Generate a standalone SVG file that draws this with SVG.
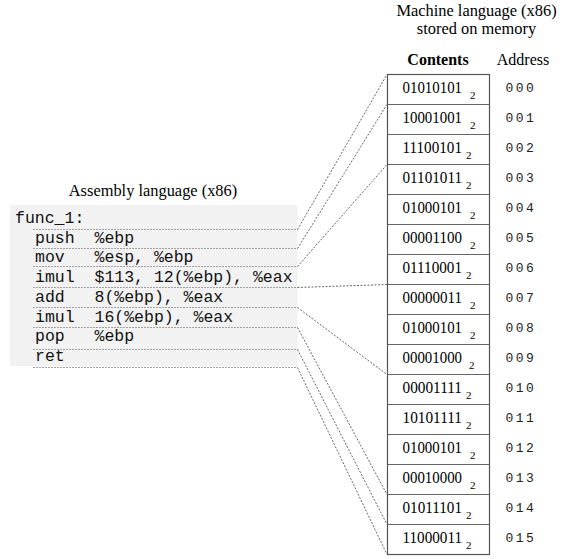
<svg xmlns="http://www.w3.org/2000/svg" width="585" height="559" viewBox="0 0 585 559">
<style>
.title{font-family:"Liberation Serif","Times New Roman",serif;font-size:16.4px;fill:#000;text-anchor:middle}
.hdr{font-family:"Liberation Serif","Times New Roman",serif;font-size:16px;fill:#000;text-anchor:middle}
.code{font-family:"Liberation Mono","Courier New",monospace;font-size:16.5px;fill:#111;white-space:pre}
.bin{font-family:"Liberation Serif","Times New Roman",serif;font-size:16.5px;fill:#000}
.sub{font-family:"Liberation Serif","Times New Roman",serif;font-size:11px;fill:#000}
.addr{font-family:"Liberation Mono","Courier New",monospace;font-size:13px;letter-spacing:2.5px;fill:#222}
.ul{stroke:#a0a0a0;stroke-width:1;stroke-dasharray:2,1;fill:none}
.conn{stroke:#666;stroke-width:1;stroke-dasharray:2,1.5;fill:none}
.cell{fill:#fff;stroke:#666;stroke-width:1}
</style>
<text class="title" x="476.5" y="15.5">Machine language (x86)</text>
<text class="title" x="476.5" y="34">stored on memory</text>
<text class="hdr" x="438" y="65" font-weight="bold">Contents</text>
<text class="hdr" x="523" y="65">Address</text>
<text class="title" x="153" y="196">Assembly language (x86)</text>

<g id="assembly">
<rect x="10" y="205" width="287.5" height="161" fill="#f2f2f2"/>
<text class="code" x="15" y="222.5">func_1:</text>
<text class="code" x="35" y="242.5">push</text><text class="code" x="94.5" y="242.5">%ebp</text>
<text class="code" x="35" y="261.5">mov</text><text class="code" x="94.5" y="261.5">%esp, %ebp</text>
<text class="code" x="35" y="281.5">imul</text><text class="code" x="94.5" y="281.5">$113, 12(%ebp), %eax</text>
<text class="code" x="35" y="301.5">add</text><text class="code" x="94.5" y="301.5">8(%ebp), %eax</text>
<text class="code" x="35" y="321.5">imul</text><text class="code" x="94.5" y="321.5">16(%ebp), %eax</text>
<text class="code" x="35" y="341">pop</text><text class="code" x="94.5" y="341">%ebp</text>
<text class="code" x="35" y="360.5">ret</text>
</g>

<g id="connectors">
<path class="ul" d="M33 229.5H297.5M33 248.5H297.5M33 266.5H297.5M33 287.5H297.5M33 307.5H297.5M33 327.5H297.5M33 349.5H297.5M33 367.5H297.5"/>
<path class="conn" d="M297.5 229.5L387 74.5"/>
<path class="conn" d="M297.5 248.5L387 104.5"/>
<path class="conn" d="M297.5 266.5L387 164.5"/>
<path class="conn" d="M297.5 287.5L387 284.5"/>
<path class="conn" d="M297.5 307.5L387 374.5"/>
<path class="conn" d="M297.5 327.5L387 494.5"/>
<path class="conn" d="M297.5 349.5L387 524.5"/>
<path class="conn" d="M297.5 367.5L387 554.5"/>
</g>

<g id="memory">
<g id="m000"><rect class="cell" x="387.5" y="74.5" width="102" height="30"/><text class="bin" x="402.5" y="93" textLength="59.5" lengthAdjust="spacingAndGlyphs">01010101</text><text class="sub" x="470" y="98.5">2</text><text class="addr" x="505.5" y="92">000</text></g>
<g id="m001"><rect class="cell" x="387.5" y="104.5" width="102" height="30"/><text class="bin" x="402.5" y="123" textLength="59.5" lengthAdjust="spacingAndGlyphs">10001001</text><text class="sub" x="470" y="128.5">2</text><text class="addr" x="505.5" y="122">001</text></g>
<g id="m002"><rect class="cell" x="387.5" y="134.5" width="102" height="30"/><text class="bin" x="402.5" y="153" textLength="59.5" lengthAdjust="spacingAndGlyphs">11100101</text><text class="sub" x="466" y="158.5">2</text><text class="addr" x="505.5" y="152">002</text></g>
<g id="m003"><rect class="cell" x="387.5" y="164.5" width="102" height="30"/><text class="bin" x="402.5" y="183" textLength="59.5" lengthAdjust="spacingAndGlyphs">01101011</text><text class="sub" x="466" y="188.5">2</text><text class="addr" x="505.5" y="182">003</text></g>
<g id="m004"><rect class="cell" x="387.5" y="194.5" width="102" height="30"/><text class="bin" x="402.5" y="213" textLength="59.5" lengthAdjust="spacingAndGlyphs">01000101</text><text class="sub" x="470" y="218.5">2</text><text class="addr" x="505.5" y="212">004</text></g>
<g id="m005"><rect class="cell" x="387.5" y="224.5" width="102" height="30"/><text class="bin" x="402.5" y="243" textLength="59.5" lengthAdjust="spacingAndGlyphs">00001100</text><text class="sub" x="470" y="248.5">2</text><text class="addr" x="505.5" y="242">005</text></g>
<g id="m006"><rect class="cell" x="387.5" y="254.5" width="102" height="30"/><text class="bin" x="402.5" y="273" textLength="59.5" lengthAdjust="spacingAndGlyphs">01110001</text><text class="sub" x="466" y="278.5">2</text><text class="addr" x="505.5" y="272">006</text></g>
<g id="m007"><rect class="cell" x="387.5" y="284.5" width="102" height="30"/><text class="bin" x="402.5" y="303" textLength="59.5" lengthAdjust="spacingAndGlyphs">00000011</text><text class="sub" x="470" y="308.5">2</text><text class="addr" x="505.5" y="302">007</text></g>
<g id="m008"><rect class="cell" x="387.5" y="314.5" width="102" height="30"/><text class="bin" x="402.5" y="333" textLength="59.5" lengthAdjust="spacingAndGlyphs">01000101</text><text class="sub" x="470" y="338.5">2</text><text class="addr" x="505.5" y="332">008</text></g>
<g id="m009"><rect class="cell" x="387.5" y="344.5" width="102" height="30"/><text class="bin" x="402.5" y="363" textLength="59.5" lengthAdjust="spacingAndGlyphs">00001000</text><text class="sub" x="469" y="368.5">2</text><text class="addr" x="505.5" y="362">009</text></g>
<g id="m010"><rect class="cell" x="387.5" y="374.5" width="102" height="30"/><text class="bin" x="402.5" y="393" textLength="59.5" lengthAdjust="spacingAndGlyphs">00001111</text><text class="sub" x="466" y="398.5">2</text><text class="addr" x="505.5" y="392">010</text></g>
<g id="m011"><rect class="cell" x="387.5" y="404.5" width="102" height="30"/><text class="bin" x="402.5" y="423" textLength="59.5" lengthAdjust="spacingAndGlyphs">10101111</text><text class="sub" x="466" y="428.5">2</text><text class="addr" x="505.5" y="422">011</text></g>
<g id="m012"><rect class="cell" x="387.5" y="434.5" width="102" height="30"/><text class="bin" x="402.5" y="453" textLength="59.5" lengthAdjust="spacingAndGlyphs">01000101</text><text class="sub" x="470" y="458.5">2</text><text class="addr" x="505.5" y="452">012</text></g>
<g id="m013"><rect class="cell" x="387.5" y="464.5" width="102" height="30"/><text class="bin" x="402.5" y="483" textLength="59.5" lengthAdjust="spacingAndGlyphs">00010000</text><text class="sub" x="470" y="488.5">2</text><text class="addr" x="505.5" y="482">013</text></g>
<g id="m014"><rect class="cell" x="387.5" y="494.5" width="102" height="30"/><text class="bin" x="402.5" y="513" textLength="59.5" lengthAdjust="spacingAndGlyphs">01011101</text><text class="sub" x="466" y="518.5">2</text><text class="addr" x="505.5" y="512">014</text></g>
<g id="m015"><rect class="cell" x="387.5" y="524.5" width="102" height="30"/><text class="bin" x="402.5" y="543" textLength="59.5" lengthAdjust="spacingAndGlyphs">11000011</text><text class="sub" x="466" y="548.5">2</text><text class="addr" x="505.5" y="542">015</text></g>
<rect x="387.5" y="74.5" width="102" height="480" fill="none" stroke="#555" stroke-width="1.2"/>
</g>
</svg>
